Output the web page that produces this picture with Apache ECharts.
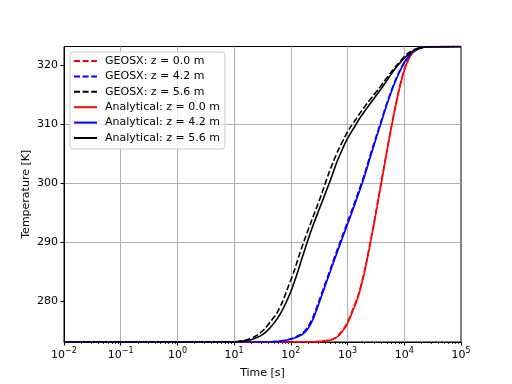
<!DOCTYPE html>
<html>
<head>
<meta charset="utf-8">
<script src="https://cdn.jsdelivr.net/npm/echarts@6/dist/echarts.min.js"></script>
<style>html,body{margin:0;padding:0;background:#fff;}#c{width:512px;height:384px;}</style>
</head>
<body>
<div id="c"></div>
<script>
// ---- data ----
const legendNames = ['GEOSX: z = 0.0 m','GEOSX: z = 4.2 m','GEOSX: z = 5.6 m','Analytical: z = 0.0 m','Analytical: z = 4.2 m','Analytical: z = 5.6 m'];

// z = 0.0 m (red)
const tRed = [0.01, 200, 398, 562, 708, 891, 1000, 1122, 1259, 1413, 1585, 1778, 1995, 2239, 2512, 2818, 3162, 3548, 3981, 4467, 5012, 5623, 6310, 7079, 7943, 8913, 10000, 11220, 12589, 14125, 15849, 19953, 28184, 100000];
const TRedAna = [273.15, 273.15, 273.3, 273.6, 274.3, 275.45, 276.3, 277.4, 278.6, 279.8, 281.2, 283.0, 285.0, 287.3, 289.8, 292.3, 294.9, 297.6, 300.3, 303.0, 305.7, 308.3, 310.8, 313.2, 315.4, 317.4, 319.1, 320.4, 321.4, 322.1, 322.5, 322.95, 323.1, 323.15];
const TRedGeo = [273.15, 273.15, 273.35, 273.7, 274.45, 275.65, 276.55, 277.65, 278.9, 280.1, 281.5, 283.3, 285.3, 287.6, 290.1, 292.6, 295.2, 297.9, 300.6, 303.3, 305.9, 308.5, 311.0, 313.4, 315.6, 317.6, 319.3, 320.6, 321.5, 322.2, 322.6, 323.0, 323.1, 323.15];

// z = 4.2 m (blue)
const tBlue = [0.01, 31.6, 63.1, 100, 126, 158, 200, 251, 316, 398, 501, 631, 794, 1000, 1259, 1585, 1995, 2512, 3162, 3981, 5012, 6310, 7943, 10000, 12589, 15849, 19953, 28184, 100000];
const TBlueAna = [273.15, 273.15, 273.25, 273.6, 273.95, 274.4, 275.4, 277.2, 279.8, 282.5, 285.2, 287.9, 290.5, 293.1, 295.7, 298.4, 301.2, 304.4, 307.5, 310.5, 313.5, 316.2, 318.5, 320.4, 321.7, 322.5, 322.95, 323.1, 323.15];
const TBlueGeo = [273.15, 273.15, 273.3, 273.7, 274.1, 274.6, 275.7, 277.6, 280.2, 282.9, 285.6, 288.3, 290.9, 293.5, 296.1, 298.8, 301.6, 304.8, 307.8, 310.8, 313.8, 316.4, 318.7, 320.5, 321.8, 322.6, 323.0, 323.1, 323.15];

// z = 5.6 m (black)
const tBlackAna = [0.01, 10, 14.1, 19.1, 25.1, 31.6, 39.8, 50.1, 63.1, 79.4, 100, 126, 158, 200, 251, 316, 398, 501, 631, 794, 1000, 1259, 1585, 1995, 2512, 3162, 3981, 5012, 6310, 7943, 10000, 12589, 15849, 19953, 28184, 100000];
const TBlackAna = [273.15, 273.15, 273.3, 273.5, 273.9, 274.4, 275.2, 276.3, 277.7, 279.5, 281.7, 284.4, 287.4, 290.4, 293.1, 295.6, 298.1, 300.6, 303.3, 305.6, 307.6, 309.2, 310.8, 312.2, 313.5, 314.8, 316.1, 317.5, 318.9, 320.1, 321.2, 322.0, 322.6, 322.95, 323.1, 323.15];
const tBlackGeo = [0.01, 10, 12.6, 17.8, 22.4, 28.2, 35.5, 44.7, 56.2, 70.8, 89.1, 112, 141, 178, 224, 282, 355, 447, 562, 708, 891, 1122, 1413, 1778, 2239, 2818, 3548, 4467, 5623, 7079, 8913, 11220, 14125, 17783, 25119, 100000];
const TBlackGeo = [273.15, 273.15, 273.3, 273.6, 274.0, 274.6, 275.5, 276.7, 278.0, 279.9, 282.4, 284.9, 287.9, 290.7, 293.3, 295.8, 298.4, 301.2, 303.7, 305.9, 307.8, 309.5, 310.9, 312.3, 313.6, 314.8, 316.0, 317.3, 318.6, 319.8, 320.9, 321.9, 322.5, 322.9, 323.1, 323.15];

const yTickValues = [280, 290, 300, 310, 320];
const xMinorTicks = [];
for (let n = -2; n < 5; n++) for (let k = 2; k <= 9; k++) xMinorTicks.push(n + Math.log10(k));

const FONT = 'DejaVu Sans';
const pairs = (xs, ys) => xs.map((x, i) => [x, ys[i]]);
const dash = [6, 2.6];

function mk(name, xs, ys, color, dashed) {
  return {
    name, type: 'line', xAxisIndex: 0, yAxisIndex: 0,
    data: pairs(xs, ys), symbol: 'none', showSymbol: false,
    smooth: 0.25,
    lineStyle: { color, width: 1.6, type: dashed ? dash : 'solid' },
    itemStyle: { color },
    emphasis: { disabled: true }
  };
}

const chart = echarts.init(document.getElementById('c'), null, { renderer: 'canvas' });
chart.setOption({
  animation: false,
  backgroundColor: '#fff',
  grid: { left: 64, right: 51, top: 46.5, bottom: 42, outerBoundsMode: 'none', containLabel: false,
          show: true, borderColor: '#000', borderWidth: 1, backgroundColor: 'transparent' },
  legend: {
    data: legendNames, orient: 'vertical', left: 70, top: 52,
    itemWidth: 23, itemHeight: 12, itemGap: 3.4,
    padding: [3, 5, 5, 3],
    backgroundColor: 'rgba(255,255,255,0.8)', borderColor: '#cccccc', borderWidth: 1, borderRadius: 3,
    itemStyle: { opacity: 0 },
    textStyle: { fontFamily: FONT, fontSize: 11, color: '#000', padding: [0, 0, 0, 3], lineHeight: 12 },
    selectedMode: false
  },
  xAxis: [{
    type: 'log', logBase: 10, min: 0.01, max: 100000,
    name: 'Time [s]', nameLocation: 'middle', nameGap: 26, nameMoveOverlap: false,
    nameTextStyle: { fontFamily: FONT, fontSize: 11, color: '#000' },
    axisLine: { onZero: false, lineStyle: { color: '#000', width: 1 } },
    axisTick: { show: true, length: 3.5, lineStyle: { color: '#000', width: 1 } },
    axisLabel: {
      margin: 5, color: '#000',
      formatter: v => {
        const e = Math.round(Math.log10(v));
        return '{b|10}{s|' + String(e).replace('-', '\u2212') + '}';
      },
      rich: {
        b: { fontFamily: FONT, fontSize: 11, color: '#000', lineHeight: 14, verticalAlign: 'bottom' },
        s: { fontFamily: FONT, fontSize: 8, color: '#000', lineHeight: 14, verticalAlign: 'top' }
      }
    },
    splitLine: { show: true, showMinLine: false, showMaxLine: false, lineStyle: { color: '#b0b0b0', width: 1 } }
  }, {
    type: 'value', min: -2, max: 5, position: 'bottom', gridIndex: 0,
    axisLine: { show: false, onZero: false },
    axisLabel: { show: false },
    splitLine: { show: false },
    axisTick: { show: true, length: 2, customValues: xMinorTicks, lineStyle: { color: '#000', width: 0.8 } }
  }],
  yAxis: {
    type: 'value', min: 273.15, max: 323.15, splitNumber: 5,
    name: 'Temperature [K]', nameLocation: 'middle', nameGap: 32, nameMoveOverlap: false,
    nameTextStyle: { fontFamily: FONT, fontSize: 11, color: '#000' },
    axisLine: { onZero: false, lineStyle: { color: '#000', width: 1 } },
    axisTick: { show: true, length: 3.5, customValues: yTickValues, lineStyle: { color: '#000', width: 1 } },
    axisLabel: { margin: 6, fontFamily: FONT, fontSize: 11, color: '#000', customValues: yTickValues, formatter: v => String(Math.round(v)) },
    splitLine: { show: true, showMinLine: false, showMaxLine: false, lineStyle: { color: '#b0b0b0', width: 1 } }
  },
  series: [
    mk(legendNames[0], tRed, TRedGeo, '#ff0000', true),
    mk(legendNames[1], tBlue, TBlueGeo, '#0000ff', true),
    mk(legendNames[2], tBlackGeo, TBlackGeo, '#000000', true),
    mk(legendNames[3], tRed, TRedAna, '#ff0000', false),
    mk(legendNames[4], tBlue, TBlueAna, '#0000ff', false),
    mk(legendNames[5], tBlackAna, TBlackAna, '#000000', false)
  ]
});
</script>
</body>
</html>
